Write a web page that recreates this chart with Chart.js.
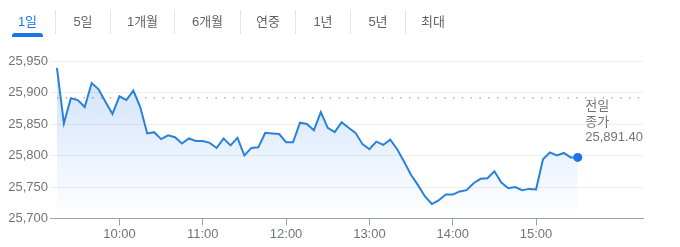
<!DOCTYPE html>
<html>
<head>
<meta charset="utf-8">
<script src="https://cdn.jsdelivr.net/npm/chart.js@4"></script>
<style>
  html, body { margin: 0; padding: 0; background: #fff; }
  body { width: 680px; height: 247px; position: relative; overflow: hidden;
         font-family: Arial, "Liberation Sans", "Noto Sans CJK KR", sans-serif; }
  #tabs { position: absolute; left: 0; top: 10px; height: 24px; display: flex; z-index: 2; }
  .tab { height: 24px; line-height: 24px; text-align: center; font-size: 13px; color: #5f6368;
         border-left: 1px solid #e3e5e8; position: relative; box-sizing: border-box; }
  .tab:first-child { border-left: none; }
  .tab.active { color: #1a73e8; }
  .tab.active::after { content: ""; position: absolute; left: 12px; width: 31px; top: 23px; height: 4px;
         background: #1a73e8; border-radius: 3px 3px 0 0; }
  #wrap { position: absolute; left: 0; top: 0; width: 680px; height: 247px; }
</style>
</head>
<body>
<div id="tabs"></div>
<div id="wrap"><canvas id="chart"></canvas></div>
<script>
/* ================= DATA ================= */

const tabLabels = ["1일", "5일", "1개월", "6개월", "연중", "1년", "5년", "최대"];
const tabWidths = [55, 55, 64, 66, 55, 55, 55, 55];

// intraday index, one point every 5 minutes from 09:15
const startMinute = 9 * 60 + 15;
const stepMinutes = 5;
const prices = [
    25939, 25851, 25891, 25888, 25877, 25915, 25905, 25885, 25866, 25894,
    25888, 25903, 25877, 25835, 25837, 25826, 25832, 25829, 25819, 25827,
    25823, 25823, 25820, 25812, 25827, 25816, 25828, 25800, 25812, 25813,
    25836, 25835, 25834, 25821, 25821, 25852, 25850, 25840, 25869, 25844,
    25837, 25853, 25844, 25836, 25818, 25810, 25822, 25817, 25825, 25810,
    25790, 25769, 25753, 25735, 25723, 25729, 25738, 25738, 25743, 25745,
    25756, 25763, 25764, 25775, 25757, 25748, 25750, 25745, 25747, 25746,
    25794, 25805, 25800, 25804, 25797, 25797
];

const previousClose = 25891.40;
const closeLabelLines = ["전일", "종가", "25,891.40"];

const yTicks = [25700, 25750, 25800, 25850, 25900, 25950];
const xTickMinutes = [600, 660, 720, 780, 840, 900];   // 10:00 .. 15:00

/* ================= TABS ================= */

const tabsEl = document.getElementById("tabs");
tabLabels.forEach((t, i) => {
    const d = document.createElement("div");
    d.className = "tab" + (i === 0 ? " active" : "");
    d.style.width = tabWidths[i] + "px";
    d.textContent = t;
    tabsEl.appendChild(d);
});

/* ================= CHART ================= */

const points = prices.map((p, i) => ({ x: startMinute + i * stepMinutes, y: p }));
const fontFamily = 'Arial, "Liberation Sans", "Noto Sans CJK KR", sans-serif';

// dotted previous-close line and its label
const closeLinePlugin = {
    id: "closeLine",
    beforeDatasetsDraw(chart) {
        const { ctx, chartArea, scales } = chart;
        const y = scales.y.getPixelForValue(previousClose);
        ctx.save();
        ctx.strokeStyle = "#9aa0a6";
        ctx.lineWidth = 1.3;
        ctx.setLineDash([1.5, 7.3]);
        ctx.beginPath();
        ctx.moveTo(chartArea.left + 7, y);
        ctx.lineTo(chartArea.right, y);
        ctx.stroke();
        ctx.restore();
    },
    afterDatasetsDraw(chart) {
        const { ctx, chartArea, scales } = chart;
        const y = scales.y.getPixelForValue(previousClose);
        ctx.save();
        ctx.font = "13px " + fontFamily;
        ctx.fillStyle = "#70757a";
        ctx.textBaseline = "middle";
        ctx.textAlign = "left";
        const w = ctx.measureText(closeLabelLines[2]).width;
        const x = chartArea.right - w;
        closeLabelLines.forEach((line, i) => {
            ctx.fillText(line, x, y + 9 + i * 15.3);
        });
        ctx.restore();
    }
};

new Chart(document.getElementById("chart").getContext("2d"), {
    type: "line",
    data: {
        datasets: [{
            data: points,
            borderColor: "#2a82d8",
            borderWidth: 2,
            tension: 0,
            fill: "start",
            backgroundColor: (c) => {
                const area = c.chart.chartArea;
                if (!area) return "rgba(26,115,232,0.1)";
                const g = c.chart.ctx.createLinearGradient(0, area.top, 0, area.bottom);
                g.addColorStop(0, "rgba(26,115,232,0.22)");
                g.addColorStop(1, "rgba(26,115,232,0)");
                return g;
            },
            pointRadius: (c) => c.dataIndex === prices.length - 1 ? 4.5 : 0,
            pointBackgroundColor: "#1a73e8",
            pointBorderWidth: 0,
            pointHoverRadius: 0
        }]
    },
    options: {
        responsive: true,
        maintainAspectRatio: false,
        animation: false,
        events: [],
        layout: { padding: { top: 61, right: 37, left: 0, bottom: 0 } },
        plugins: { legend: { display: false }, tooltip: { enabled: false } },
        scales: {
            x: {
                type: "linear",
                min: 550,
                max: 977,
                afterBuildTicks: (s) => { s.ticks = xTickMinutes.map(v => ({ value: v })); },
                afterFit: (s) => { s.height = 28.5; },
                grid: { drawOnChartArea: false, drawTicks: true, tickLength: 7, color: "#9aa0a6" },
                border: { color: "#9aa0a6", width: 1 },
                ticks: {
                    padding: 1,
                    maxRotation: 0,
                    color: "#70757a",
                    font: { family: fontFamily, size: 13 },
                    callback: (v) => Math.floor(v / 60) + ":" + String(v % 60).padStart(2, "0")
                }
            },
            y: {
                min: 25700,
                max: 25950,
                afterBuildTicks: (s) => { s.ticks = yTicks.map(v => ({ value: v })); },
                afterFit: (s) => { s.width = 50; },
                grid: { color: "#eeeeee", drawTicks: false },
                border: { display: false },
                ticks: {
                    padding: 2,
                    color: "#70757a",
                    font: { family: fontFamily, size: 13 },
                    callback: (v) => v.toLocaleString("en-US")
                }
            }
        }
    },
    plugins: [closeLinePlugin]
});
</script>
</body>
</html>
